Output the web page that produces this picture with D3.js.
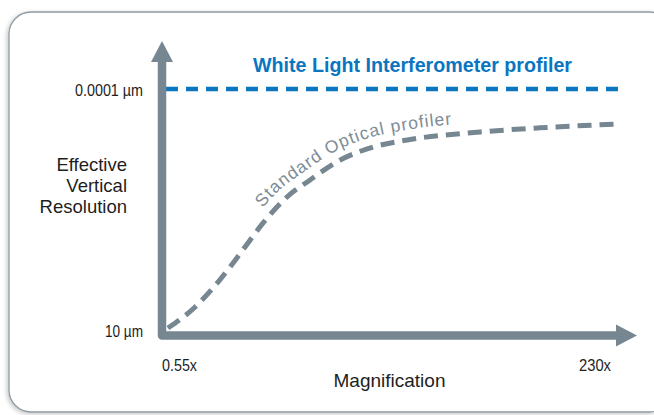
<!DOCTYPE html>
<html>
<head>
<meta charset="utf-8">
<script src="https://cdn.jsdelivr.net/npm/d3@7"></script>
<style>
  body { margin: 0; background: #fff; }
  svg { display: block; }
  .lbl { font-family: 'Liberation Sans', Arial, sans-serif; fill: #1e1e1e; }
</style>
</head>
<body>
<svg width="654" height="415"></svg>
<script>
const svg = d3.select('svg');

// schematic curve (log magnification vs log resolution)
const magnification = [0.557, 0.80, 1.11, 1.51, 1.98, 2.72, 3.70, 5.5, 8.6, 13.5, 35.6, 79, 230];
const resolution = [9.1, 3.33, 0.92, 0.219, 0.060, 0.0174, 0.0077, 0.0030, 0.0016, 0.00114, 0.00078, 0.00064, 0.00053];
const wliResolution = 0.0001;

const xTicks = [0.55, 230];
const xTickLabels = ['0.55x', '230x'];
const yTicks = [10, 0.0001];
const yTickLabels = ['10 µm', '0.0001 µm'];

const grey = '#768791';
const blue = '#0a76bf';

const xScale = d3.scaleLog().domain([0.55, 230]).range([167, 620]);
const yScale = d3.scaleLog().domain([10, 0.0001]).range([330, 89]);

const axisX = 162, axisY = 335.5;

// card
const defs = svg.append('defs');
const f = defs.append('filter').attr('id', 'sh').attr('x', '-5%').attr('y', '-5%').attr('width', '110%').attr('height', '110%');
f.append('feDropShadow').attr('dx', -1.5).attr('dy', 1.5).attr('stdDeviation', 2)
  .attr('flood-color', '#000').attr('flood-opacity', 0.22);

svg.append('rect')
  .attr('x', 9).attr('y', 12).attr('width', 662).attr('height', 400)
  .attr('rx', 22)
  .attr('fill', '#fff').attr('stroke', '#8e9aa2').attr('stroke-width', 1.3)
  .attr('filter', 'url(#sh)');

const g = svg.append('g');

// blue WLI line
g.append('line')
  .attr('x1', axisX + 4).attr('x2', xScale(230))
  .attr('y1', yScale(wliResolution)).attr('y2', yScale(wliResolution))
  .attr('stroke', blue).attr('stroke-width', 4.5)
  .attr('stroke-dasharray', '12,8');

g.append('text')
  .attr('x', 253).attr('y', 72)
  .attr('font-family', 'Liberation Sans, Arial, sans-serif')
  .attr('font-weight', 'bold').attr('font-size', 19.7)
  .attr('textLength', 319).attr('lengthAdjust', 'spacingAndGlyphs')
  .attr('fill', blue)
  .text('White Light Interferometer profiler');

// standard optical curve
const data = magnification.map((m, i) => ({ m, r: resolution[i] }));
const line = d3.line()
  .x(d => xScale(d.m))
  .y(d => yScale(d.r))
  .curve(d3.curveMonotoneX);

const curve = g.append('path')
  .datum(data)
  .attr('d', line)
  .attr('fill', 'none')
  .attr('stroke', grey).attr('stroke-width', 5)
  .attr('stroke-dasharray', '14,8');

// offset path for the curved label
const node = curve.node();
const total = node.getTotalLength();
const off = [];
for (let s = 0; s <= total; s += 3) {
  const p = node.getPointAtLength(s);
  const q = node.getPointAtLength(Math.min(total, s + 1));
  const p0 = node.getPointAtLength(Math.max(0, s - 1));
  let dx = q.x - p0.x, dy = q.y - p0.y;
  const len = Math.hypot(dx, dy) || 1;
  dx /= len; dy /= len;
  off.push([p.x + dy * 10, p.y - dx * 10]);
}
const labelPath = defs.append('path').attr('id', 'labelPath').attr('d', d3.line().curve(d3.curveBasis)(off));

// start the label where the offset path reaches x = 262
const lp = labelPath.node();
let start = 0;
for (let s = 0; s < lp.getTotalLength(); s += 1) {
  if (lp.getPointAtLength(s).x >= 262) { start = s; break; }
}

g.append('text')
  .attr('font-family', 'Liberation Sans, Arial, sans-serif')
  .attr('font-size', 17.5)
  .attr('letter-spacing', 1)
  .attr('fill', '#7d8c96')
  .append('textPath')
  .attr('href', '#labelPath')
  .attr('startOffset', start)
  .text('Standard Optical profiler');

// axes as thick arrows
g.append('path')
  .attr('d', `M${axisX},60 L${axisX},${axisY} L618,${axisY}`)
  .attr('fill', 'none').attr('stroke', grey).attr('stroke-width', 8.5)
  .attr('stroke-linejoin', 'round');

g.append('path')
  .attr('d', `M${axisX},41 L${axisX + 11},62 L${axisX - 11},62 Z`)
  .attr('fill', grey);
g.append('path')
  .attr('d', `M637,${axisY} L616,${axisY - 11} L616,${axisY + 11} Z`)
  .attr('fill', grey);

// tick labels (narrow face imitated with textLength)
const yLen = [38, 68];
g.selectAll('.ytick')
  .data(yTicks)
  .enter().append('text')
  .attr('class', 'lbl ytick')
  .attr('x', 143)
  .attr('y', d => yScale(d) + 6.5)
  .attr('text-anchor', 'end')
  .attr('font-size', 17)
  .attr('textLength', (d, i) => yLen[i])
  .attr('lengthAdjust', 'spacingAndGlyphs')
  .text((d, i) => yTickLabels[i]);

const xLen = [35, 32];
g.selectAll('.xtick')
  .data(xTicks)
  .enter().append('text')
  .attr('class', 'lbl xtick')
  .attr('x', (d, i) => i === 0 ? 162 : 611)
  .attr('y', 370.5)
  .attr('text-anchor', (d, i) => i === 0 ? 'start' : 'end')
  .attr('font-size', 17)
  .attr('textLength', (d, i) => xLen[i])
  .attr('lengthAdjust', 'spacingAndGlyphs')
  .text((d, i) => xTickLabels[i]);

g.append('text')
  .attr('class', 'lbl')
  .attr('x', 389.5).attr('y', 387)
  .attr('text-anchor', 'middle')
  .attr('font-size', 19)
  .text('Magnification');

const yTitle = g.append('text')
  .attr('class', 'lbl')
  .attr('text-anchor', 'end')
  .attr('font-size', 18.5);
['Effective', 'Vertical', 'Resolution'].forEach((t, i) => {
  yTitle.append('tspan').attr('x', 127).attr('y', 171 + i * 21).text(t);
});
</script>
</body>
</html>
